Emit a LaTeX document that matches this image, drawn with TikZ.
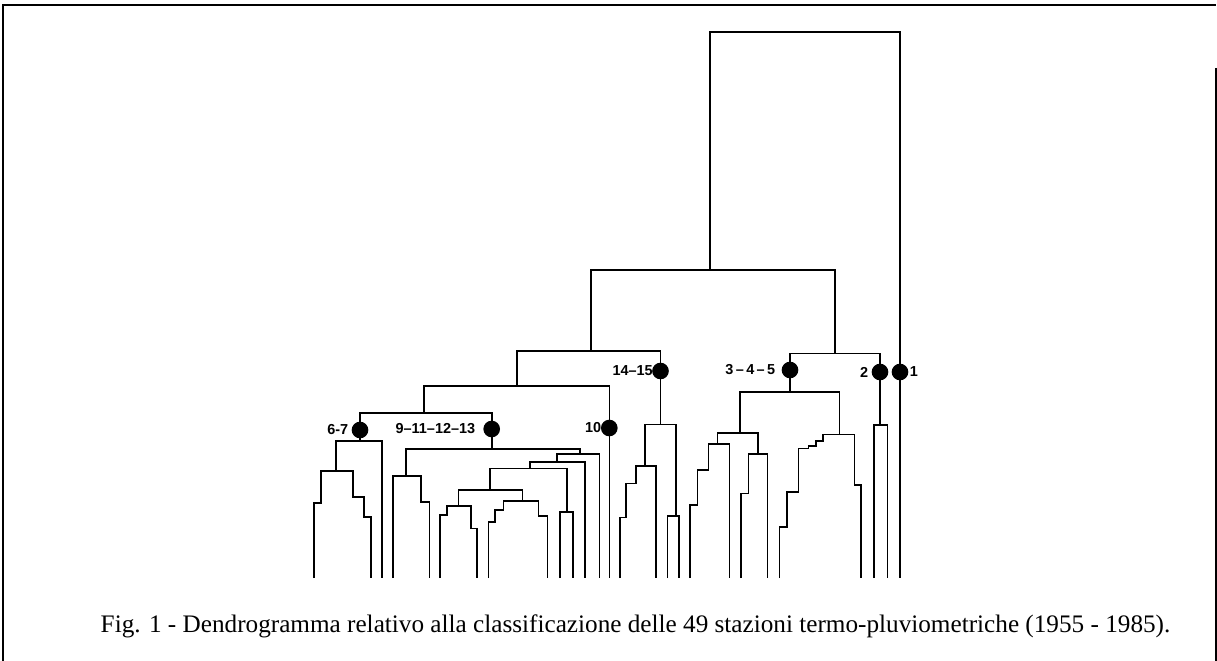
\documentclass[tikz,border=0pt]{standalone}
\usepackage{fontspec}
\setmainfont{Liberation Serif}
\newfontfamily\lblfont[Ligatures=TeX]{Liberation Sans}
\usepackage{tikz}

\begin{document}
\begin{tikzpicture}[x=1bp, y=-1bp, line width=1.6bp,
    cut/.style={circle, fill=black, draw, inner sep=0, minimum size=15bp},
    grp/.style={font=\lblfont\bfseries\fontsize{14.5}{16}\selectfont, inner sep=0}]
        \useasboundingbox (0,0) rectangle (1217,661);
        \draw[line width=1.5bp] (3,661) -- (3,5) -- (1216,5);
        \draw[line width=1.5bp] (1216,68) -- (1216,661);

        \node (c67) [cut] at (360, 430) {};
        \node (c9) [cut] at (491.7, 429) {};
        \node (c10) [cut] at (609.3, 428) {};
        \node (c1415) [cut] at (660.5, 371) {};
        \node (c345) [cut] at (790, 370) {};
        \node (c2) [cut] at (880, 372) {};
        \node (c1) [cut] at (900, 372) {};

        \node (l67) [grp, anchor=east] at (349, 430) {6-7};
        \node (l9) [grp, anchor=east] at (476, 429) {9--11--12--13};
        \node (l10) [grp, anchor=east] at (602, 428) {10};
        \node (l1415) [grp, anchor=east] at (653.5, 371) {14--15};
        \node (l345) [grp, anchor=east] at (776, 370) {3\,--\,4\,--\,5};
        \node (l2) [grp, anchor=east] at (869, 372) {2};
        \node (l1) [grp, anchor=west] at (909, 372) {1};

        \draw (710,270) -- (710,32) -- (900,32) -- (c1);
        \draw (c1) -- (900,578);
        \draw (591,350.7) -- (591,270) -- (835,270) -- (835,353.3);
        \draw (517,385.7) -- (517,350.7) -- (660.5,350.7) -- (c1415);
        \draw (424,412.7) -- (424,385.7) -- (609.3,385.7) -- (c10);
        \draw (c10) -- (609.3,578);
        \draw (c67) -- (360,412.7) -- (491.7,412.7) -- (c9);

        \draw (c67) -- (360,441);
        \draw (336,470.7) -- (336,441) -- (382,441) -- (382,578);
        \draw (314,578) -- (314,503) -- (321,503) -- (321,470.7) -- (352.7,470.7)
              -- (352.7,497) -- (364,497) -- (364,517) -- (370.7,517) -- (370.7,578);

        \draw (c9) -- (491.7,449);
        \draw (405.7,476) -- (405.7,449) -- (580,449) -- (580,454);
        \draw (393,578) -- (393,476) -- (420.7,476) -- (420.7,501.7) -- (429.3,501.7) -- (429.3,578);
        \draw (556.7,461.7) -- (556.7,454) -- (599.3,454) -- (599.3,578);
        \draw (530,468.3) -- (530,461.7) -- (585,461.7) -- (585,578);
        \draw (490,490) -- (490,468.3) -- (566.7,468.3) -- (566.7,511.7);
        \draw (560,578) -- (560,511.7) -- (572.7,511.7) -- (572.7,578);
        \draw (458.3,506) -- (458.3,490) -- (522.3,490) -- (522.3,501);
        \draw (440,578) -- (440,515) -- (446.7,515) -- (446.7,506) -- (471,506)
              -- (471,528.3) -- (476.7,528.3) -- (476.7,578);
        \draw (488.3,578) -- (488.3,521.7) -- (495,521.7) -- (495,510) -- (503.3,510)
              -- (503.3,501) -- (538.3,501) -- (538.3,516) -- (547.5,516) -- (547.5,578);

        \draw (c1415) -- (660.5,424.3);
        \draw (645,466) -- (645,424.3) -- (675.7,424.3) -- (675.7,516);
        \draw (667.3,578) -- (667.3,516) -- (679,516) -- (679,578);
        \draw (620,578) -- (620,517.3) -- (626,517.3) -- (626,483.3) -- (636,483.3)
              -- (636,466) -- (656,466) -- (656,578);

        \draw (c345) -- (790,353.3) -- (880,353.3) -- (c2);
        \draw (c345) -- (790,391.7);
        \draw (740,432.7) -- (740,391.7) -- (839.3,391.7) -- (839.3,434.3);
        \draw (717.3,444) -- (717.3,432.7) -- (757.7,432.7) -- (757.7,454);
        \draw (690,578) -- (690,505) -- (697.3,505) -- (697.3,470) -- (708.3,470)
              -- (708.3,444) -- (729.3,444) -- (729.3,578);
        \draw (740.7,578) -- (740.7,493.3) -- (748.3,493.3) -- (748.3,454) -- (767.3,454) -- (767.3,578);
        \draw (779.3,578) -- (779.3,526.7) -- (786.7,526.7) -- (786.7,491.7) -- (798.3,491.7)
              -- (798.3,448.3) -- (808.3,448.3) -- (808.3,446) -- (816,446) -- (816,441)
              -- (822.7,441) -- (822.7,434.3) -- (854.3,434.3) -- (854.3,485) -- (861,485) -- (861,578);

        \draw (c2) -- (880,425);
        \draw (874,578) -- (874,425) -- (887.3,425) -- (887.3,578);

        \node (cap) [anchor=base, inner sep=0, font=\fontsize{25.3}{28}\selectfont] at (635.5,632)
          {Fig. 1 - Dendrogramma relativo alla classificazione delle 49 stazioni termo-pluviometriche (1955 - 1985).};
      \end{tikzpicture}
\end{document}
